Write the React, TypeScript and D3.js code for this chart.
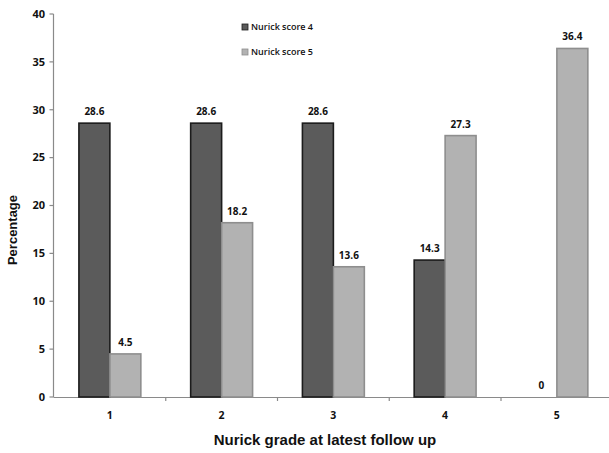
import React from "react";
import * as d3 from "d3";

const categories = ["1", "2", "3", "4", "5"];
const score4 = [28.6, 28.6, 28.6, 14.3, 0];
const score5 = [4.5, 18.2, 13.6, 27.3, 36.4];
const yTicks = [0, 5, 10, 15, 20, 25, 30, 35, 40];
const seriesNames = ["Nurick score 4", "Nurick score 5"];

const W = 609;
const H = 453;

export default function App() {
  const y = d3.scaleLinear().domain([0, 40]).range([397, 14]);
  const x = d3.scaleBand<string>().domain(categories).range([54, 612.75]).padding(0);
  const bw = x.bandwidth() * 0.277;
  const font = "'Open Sans', 'Liberation Sans', Arial, sans-serif";
  const series = [
    { name: seriesNames[0], values: score4, fill: "#5b5b5b", stroke: "#1c1c1c", off: -1 },
    { name: seriesNames[1], values: score5, fill: "#b2b2b2", stroke: "#8e8e8e", off: 0 },
  ];
  return (
    <svg width={W} height={H} style={{ position: "absolute", left: 0, top: 0, background: "#fff" }}>
      {/* y axis */}
      <line x1={53.5} x2={53.5} y1={y(40)} y2={y(0)} stroke="#8a8a8a" strokeWidth={1.2} />
      {yTicks.map((t) => (
        <g key={t}>
          <line x1={49.5} x2={53.5} y1={y(t)} y2={y(t)} stroke="#8a8a8a" strokeWidth={1.2} />
          <text x={45} y={y(t)} dy="0.35em" textAnchor="end" fontFamily={font} fontWeight={700} fontSize={11} fill="#111">
            {t}
          </text>
        </g>
      ))}
      {/* x axis */}
      <line x1={53.5} x2={W} y1={y(0) + 0.5} y2={y(0) + 0.5} stroke="#8a8a8a" strokeWidth={1.2} />
      {categories.slice(1).map((c) => (
        <line key={c} x1={x(c)!} x2={x(c)!} y1={y(0)} y2={y(0) + 4} stroke="#8a8a8a" strokeWidth={1.2} />
      ))}
      {categories.map((c) => (
        <text key={c} x={x(c)! + x.bandwidth() / 2} y={y(0) + 22} textAnchor="middle" fontFamily={font} fontWeight={700} fontSize={10.5} fill="#111">
          {c}
        </text>
      ))}
      {/* bars */}
      {series.map((s) =>
        categories.map((c, i) => {
          const cx = x(c)! + x.bandwidth() / 2 + s.off * bw;
          const v = s.values[i];
          return (
            <g key={s.name + c}>
              {v > 0 && (
                <rect x={cx} y={y(v)} width={bw} height={y(0) - y(v)} fill={s.fill} stroke={s.stroke} strokeWidth={1.6} />
              )}
              <text x={cx + bw / 2} y={y(v) - 8} textAnchor="middle" fontFamily={font} fontWeight={700} fontSize={10} fill="#111">
                {v}
              </text>
            </g>
          );
        })
      )}
      {/* legend */}
      {series.map((s, i) => (
        <g key={s.name} transform={`translate(242, ${24 + i * 25})`}>
          <rect x={0} y={0} width={6} height={6} fill={s.fill} stroke={s.stroke} strokeWidth={0.8} />
          <text x={9} y={3} dy="0.35em" fontFamily={font} fontWeight={600} fontSize={9} fill="#111">
            {s.name}
          </text>
        </g>
      ))}
      {/* axis titles */}
      <text x={325} y={445} textAnchor="middle" fontFamily="'Liberation Sans', Arial, sans-serif" fontWeight={700} fontSize={15} fill="#111">
        Nurick grade at latest follow up
      </text>
      <text transform="translate(17, 230) rotate(-90)" textAnchor="middle" fontFamily="'Liberation Sans', Arial, sans-serif" fontWeight={700} fontSize={13} fill="#111">
        Percentage
      </text>
    </svg>
  );
}
